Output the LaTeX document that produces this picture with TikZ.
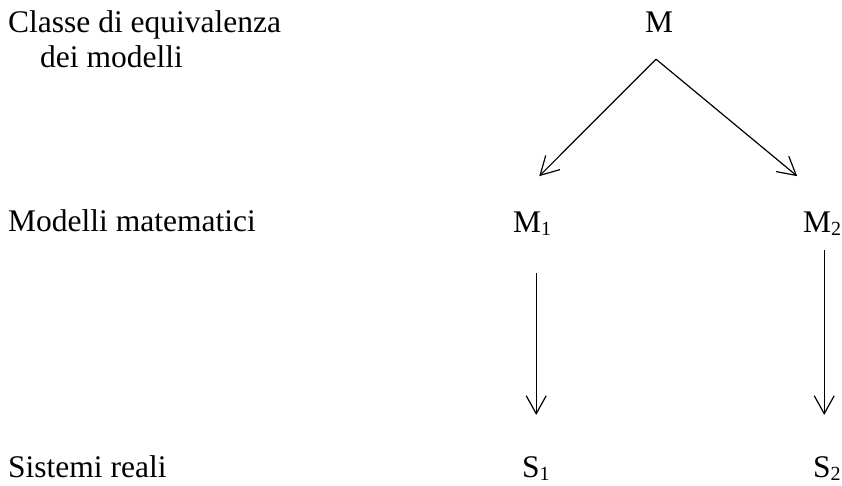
\documentclass[tikz,border=0pt]{standalone}
\usepackage{fontspec}
\setmainfont{Liberation Serif}
\usetikzlibrary{arrows.meta,calc}
% subscript index, lowered below the baseline
\newcommand\idx[1]{\raisebox{-2.5pt}{\fontsize{20}{20}\selectfont #1}}
\begin{document}
\begin{tikzpicture}[x=1pt,y=1pt,
  lbl/.style={inner sep=0pt,anchor=base west,font=\fontsize{31.5}{36}\selectfont},
  sym/.style={inner sep=0pt,anchor=base west,font=\fontsize{31.5}{36}\selectfont},
  link/.style={line width=1.2pt,-{Straight Barb[length=18pt,width=20pt,line width=1.2pt]}}]
\useasboundingbox (0,0) rectangle (842,486);
% row labels
\node[lbl] (cl1) at (8,453) {Classe di equivalenza};
\node[lbl] (cl2) at (40,418) {dei modelli};
\node[lbl] (mm) at (8,254) {Modelli matematici};
\node[lbl] (sr) at (8,8) {Sistemi reali};
% diagram
\node[sym,anchor=base] (M) at (659,453) {M};
\node[sym] (M1) at (513,253) {M\idx{1}};
\node[sym] (M2) at (803,253) {M\idx{2}};
\node[sym] (S1) at (522,8) {S\idx{1}};
\node[sym] (S2) at (813,8) {S\idx{2}};
\coordinate (top) at ([xshift=-3pt,yshift=-26pt]M.south);
\draw[link] (top) -- ([xshift=7pt,yshift=36pt]M1.north);
\draw[link] (top) -- ([xshift=-25pt,yshift=36pt]M2.north);
% vertical links, kept exactly upright
\coordinate (v1) at ([xshift=4pt,yshift=-37.5pt]M1.south);
\coordinate (v2) at ([xshift=2pt,yshift=-14.5pt]M2.south);
\draw[link] (v1) -- ($(v1 |- S1.north)+(0,42)$);
\draw[link] (v2) -- ($(v2 |- S2.north)+(0,42)$);
\end{tikzpicture}
\end{document}
